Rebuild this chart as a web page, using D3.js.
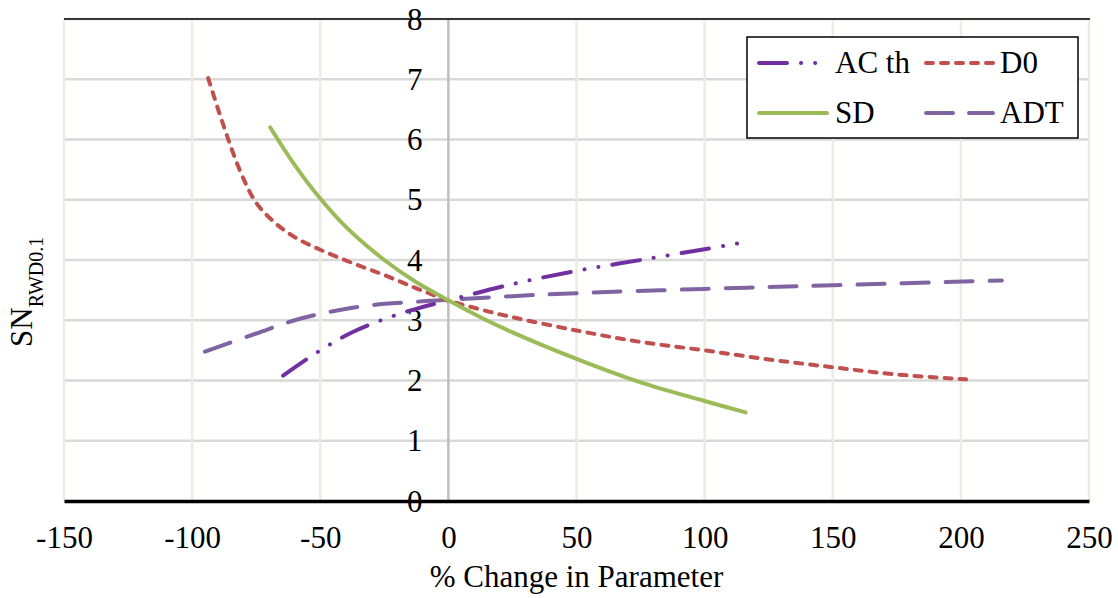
<!DOCTYPE html>
<html>
<head>
<meta charset="utf-8">
<script src="https://cdn.jsdelivr.net/npm/d3@7"></script>
<style>
  html, body { margin: 0; padding: 0; background: #fff; }
  svg { display: block; font-family: "Liberation Serif", "Times New Roman", serif; }
</style>
</head>
<body>
<svg id="chart" width="1118" height="598"></svg>
<script>
// ---- data ----
const xTicks = [-150, -100, -50, 0, 50, 100, 150, 200, 250];
const yTicks = [0, 1, 2, 3, 4, 5, 6, 7, 8];
const seriesNames = ["AC th", "D0", "SD", "ADT"];

const acthX = [-64.5, -50, -37.5, -25, -12.5, 0, 25, 50, 75, 100, 115];
const acthY = [2.08, 2.5, 2.8, 3.02, 3.19, 3.33, 3.6, 3.82, 4.0, 4.18, 4.29];

const d0X = [-93.75, -87.5, -81, -75, -68, -60, -50, -37.5, -25, -12.5, 0, 12.5, 25, 50, 75, 100, 125, 150, 175, 202];
const d0Y = [7.02, 6.2, 5.45, 4.95, 4.63, 4.38, 4.17, 3.95, 3.75, 3.53, 3.33, 3.18, 3.05, 2.83, 2.64, 2.5, 2.35, 2.22, 2.1, 2.02];

const sdX = [-69.5, -60, -50, -40, -25, -12.5, 0, 12.5, 25, 50, 75, 100, 116];
const sdY = [6.2, 5.58, 5.02, 4.55, 4.0, 3.63, 3.33, 3.05, 2.8, 2.36, 1.97, 1.66, 1.47];

const adtX = [-95, -75, -60, -45, -30, -15, 0, 25, 50, 100, 150, 216];
const adtY = [2.48, 2.78, 3.0, 3.15, 3.25, 3.3, 3.34, 3.4, 3.45, 3.52, 3.58, 3.66];

// ---- layout ----
const svg = d3.select("#chart");
const X0 = 64, X1 = 1089, Y0 = 501, Y1 = 19;
const x = d3.scaleLinear().domain([-150, 250]).range([X0, X1]);
const y = d3.scaleLinear().domain([0, 8]).range([Y0, Y1]);

// horizontal gridlines
svg.append("g").selectAll("line").data(yTicks.filter(d => d > 0)).join("line")
  .attr("x1", X0).attr("x2", X1)
  .attr("y1", d => y(d)).attr("y2", d => y(d))
  .attr("stroke", "#d9d9d9").attr("stroke-width", 2.5);

// vertical gridlines
svg.append("g").selectAll("line").data(xTicks.filter(d => d !== 0)).join("line")
  .attr("x1", d => x(d)).attr("x2", d => x(d))
  .attr("y1", Y1).attr("y2", Y0)
  .attr("stroke", "#eeece1").attr("stroke-width", 2.5);

// y axis at x = 0
svg.append("line").attr("x1", x(0)).attr("x2", x(0)).attr("y1", Y1).attr("y2", Y0)
  .attr("stroke", "#bfbfbf").attr("stroke-width", 2.5);

// top border
svg.append("line").attr("x1", X0).attr("x2", X1 + 1).attr("y1", Y1).attr("y2", Y1)
  .attr("stroke", "#000").attr("stroke-width", 1.5);

// x axis (bottom)
const xAxis = d3.axisBottom(x).tickValues(xTicks).tickSize(0).tickFormat(d => String(d));
const gx = svg.append("g").attr("transform", `translate(0,${Y0})`).call(xAxis);
gx.select(".domain").attr("stroke", "#000").attr("stroke-width", 3.5);
gx.selectAll("text").attr("font-size", 31).attr("fill", "#000")
  .attr("font-family", "Liberation Serif, serif").attr("dy", null).attr("y", 47);

// y axis tick labels
const yAxis = d3.axisLeft(y).tickValues(yTicks).tickSize(0).tickFormat(d => String(d));
const gy = svg.append("g").attr("transform", `translate(${x(0) - 26},0)`).call(yAxis);
gy.select(".domain").remove();
gy.selectAll("text").attr("font-size", 31).attr("fill", "#000")
  .attr("font-family", "Liberation Serif, serif").attr("x", 0).attr("dy", "0.33em");

// ---- series ----
const line = d3.line().x(d => x(d[0])).y(d => y(d[1])).curve(d3.curveCatmullRom.alpha(0.5));
const series = [
  { name: "AC th", xs: acthX, ys: acthY, color: "#7030a0", dash: "28,14,0.1,14,0.1,14" },
  { name: "D0", xs: d0X, ys: d0Y, color: "#c0504d", dash: "7,8" },
  { name: "SD", xs: sdX, ys: sdY, color: "#9bbb59", dash: null },
  { name: "ADT", xs: adtX, ys: adtY, color: "#8064a2", dash: "27,17" }
];
const drawOrder = ["ADT", "AC th", "D0", "SD"];
drawOrder.forEach(n => {
  const s = series.find(t => t.name === n);
  const pts = s.xs.map((v, i) => [v, s.ys[i]]);
  svg.append("path").datum(pts).attr("d", line)
    .attr("fill", "none").attr("stroke", s.color).attr("stroke-width", 4)
    .attr("stroke-linecap", "round").attr("stroke-linejoin", "round")
    .attr("stroke-dasharray", s.dash);
});

// ---- legend ----
const lg = svg.append("g");
lg.append("rect").attr("x", 747).attr("y", 37).attr("width", 331).attr("height", 101)
  .attr("fill", "#fff").attr("stroke", "#000").attr("stroke-width", 1.5);
const legendPos = {
  "AC th": { lx: 759, ly: 63 },
  "D0": { lx: 926, ly: 63 },
  "SD": { lx: 759, ly: 113 },
  "ADT": { lx: 926, ly: 113 }
};
const legendDash = { "AC th": "28,14,0.1,14,0.1,14", "D0": "7,8", "SD": null, "ADT": "27,16" };
seriesNames.forEach(n => {
  const s = series.find(t => t.name === n);
  const p = legendPos[n];
  const len = n === "SD" || n === "AC th" ? 68 : 67;
  lg.append("line").attr("x1", p.lx).attr("x2", p.lx + len - (n === "AC th" ? 8 : 0))
    .attr("y1", p.ly).attr("y2", p.ly)
    .attr("stroke", s.color).attr("stroke-width", 4).attr("stroke-linecap", "round")
    .attr("stroke-dasharray", legendDash[n]);
  lg.append("text").attr("x", n === "AC th" || n === "SD" ? 835 : 1000).attr("y", p.ly + 10)
    .attr("font-size", 31).attr("fill", "#000").text(n);
});

// ---- axis titles ----
svg.append("text").attr("x", (X0 + X1) / 2).attr("y", 587).attr("text-anchor", "middle")
  .attr("font-size", 31).attr("fill", "#000").text("% Change in Parameter");

const yt = svg.append("text").attr("transform", "translate(32,347) rotate(-90)")
  .attr("font-size", 31).attr("fill", "#000");
yt.append("tspan").text("SN");
yt.append("tspan").attr("font-size", 20).attr("dy", 11).text("RWD0.1");
</script>
</body>
</html>
